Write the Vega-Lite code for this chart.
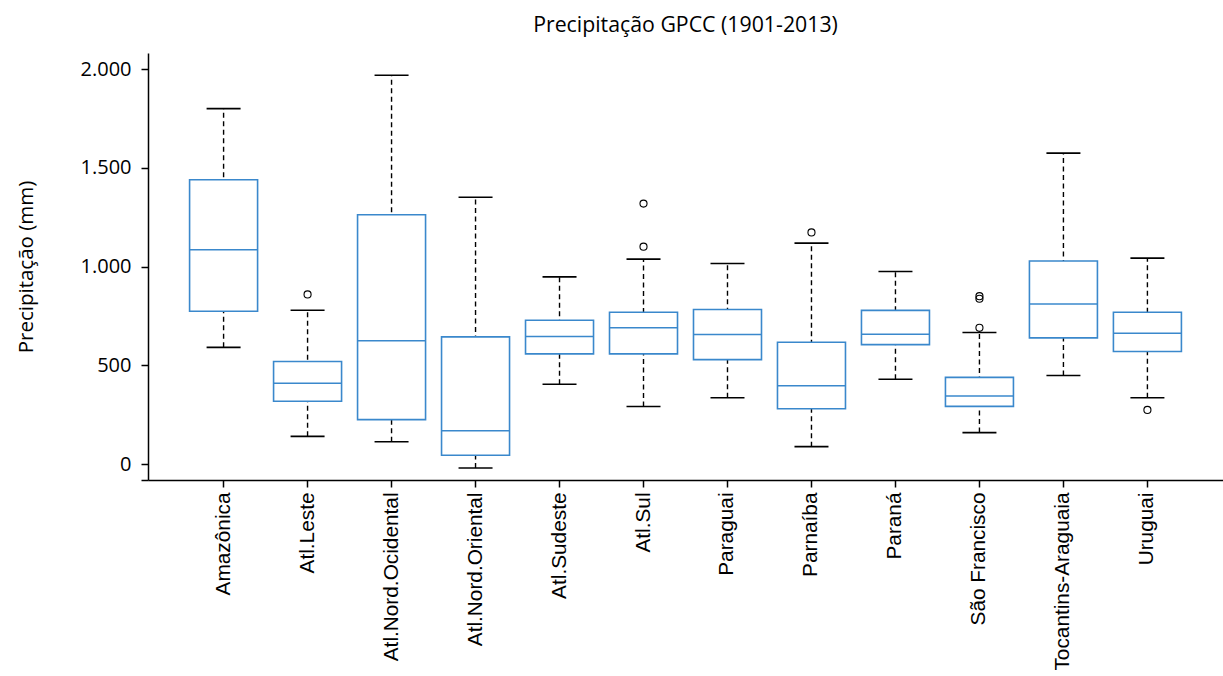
{
  "$schema": "https://vega.github.io/schema/vega-lite/v6.json",
  "width": 1075,
  "height": 427,
  "autosize": {"type": "none"},
  "padding": {"left": 148, "top": 53, "right": 0, "bottom": 196},
  "background": "white",
  "title": {"text": "Precipitação GPCC (1901-2013)", "font": "Open Sans", "fontSize": 21.3, "fontWeight": "normal", "color": "#000000", "anchor": "middle", "offset": 17},
  "config": {
    "view": {"stroke": null},
    "font": "Open Sans",
    "axis": {"labelColor": "#000000", "titleColor": "#000000", "domainColor": "#000000", "tickColor": "#000000", "grid": false, "titleFontWeight": "normal", "tickSize": 7, "domainWidth": 1.5, "tickWidth": 1.5}
  },
  "datasets": {
    "stats": [
      {"regiao": "Amazônica", "lower": 591, "q1": 774, "median": 1085, "q3": 1440, "upper": 1800},
      {"regiao": "Atl.Leste", "lower": 140, "q1": 318, "median": 409, "q3": 519, "upper": 779},
      {"regiao": "Atl.Nord.Ocidental", "lower": 113, "q1": 225, "median": 625, "q3": 1263, "upper": 1969},
      {"regiao": "Atl.Nord.Oriental", "lower": -20, "q1": 44, "median": 169, "q3": 644, "upper": 1351},
      {"regiao": "Atl.Sudeste", "lower": 404, "q1": 558, "median": 646, "q3": 728, "upper": 948},
      {"regiao": "Atl.Sul", "lower": 291, "q1": 558, "median": 690, "q3": 769, "upper": 1038},
      {"regiao": "Paraguai", "lower": 336, "q1": 529, "median": 656, "q3": 783, "upper": 1016},
      {"regiao": "Parnaíba", "lower": 88, "q1": 280, "median": 396, "q3": 617, "upper": 1119},
      {"regiao": "Paraná", "lower": 429, "q1": 605, "median": 657, "q3": 778, "upper": 975},
      {"regiao": "São Francisco", "lower": 159, "q1": 292, "median": 345, "q3": 439, "upper": 666},
      {"regiao": "Tocantins-Araguaia", "lower": 448, "q1": 639, "median": 811, "q3": 1028, "upper": 1575},
      {"regiao": "Uruguai", "lower": 336, "q1": 570, "median": 662, "q3": 769, "upper": 1043}
    ],
    "outliers": [
      {"regiao": "Atl.Leste", "valor": 859},
      {"regiao": "Atl.Sul", "valor": 1319},
      {"regiao": "Atl.Sul", "valor": 1101},
      {"regiao": "Parnaíba", "valor": 1173},
      {"regiao": "São Francisco", "valor": 850},
      {"regiao": "São Francisco", "valor": 837},
      {"regiao": "São Francisco", "valor": 690},
      {"regiao": "Uruguai", "valor": 274}
    ]
  },
  "encoding": {
    "x": {
      "field": "regiao", "type": "nominal",
      "scale": {"domain": ["Amazônica", "Atl.Leste", "Atl.Nord.Ocidental", "Atl.Nord.Oriental", "Atl.Sudeste", "Atl.Sul", "Paraguai", "Parnaíba", "Paraná", "São Francisco", "Tocantins-Araguaia", "Uruguai"], "paddingInner": 0, "paddingOuter": 0.4},
      "axis": {"title": null, "labelAngle": -90, "labelPadding": 5, "labelFont": "Liberation Sans", "labelFontSize": 20.8, "labelLimit": 400}
    }
  },
  "layer": [
    {
      "data": {"name": "stats"},
      "mark": {"type": "rule", "color": "#000000", "strokeWidth": 1.4, "strokeDash": [5, 3.5]},
      "encoding": {
        "y": {"field": "lower", "type": "quantitative", "scale": {"domain": [-81, 2082], "nice": false, "zero": false},
          "axis": {"title": "Precipitação (mm)", "values": [-81, 0, 500, 1000, 1500, 2000], "labelExpr": "datum.value < 0 ? '' : replace(format(datum.value, ','), ',', '.')", "labelPadding": 10, "labelFont": "Open Sans", "labelFontSize": 20, "titleFont": "Open Sans", "titleFontSize": 20.5, "titlePadding": 44}},
        "y2": {"field": "upper"}
      }
    },
    {
      "data": {"name": "stats"},
      "mark": {"type": "tick", "color": "#000000", "opacity": 1, "size": 34, "thickness": 1.6},
      "encoding": {"y": {"field": "upper", "type": "quantitative"}}
    },
    {
      "data": {"name": "stats"},
      "mark": {"type": "tick", "color": "#000000", "opacity": 1, "size": 34, "thickness": 1.6},
      "encoding": {"y": {"field": "lower", "type": "quantitative"}}
    },
    {
      "data": {"name": "stats"},
      "mark": {"type": "bar", "size": 68, "fill": "#ffffff", "stroke": "#3a88cc", "strokeWidth": 1.6, "opacity": 1},
      "encoding": {"y": {"field": "q1", "type": "quantitative"}, "y2": {"field": "q3"}}
    },
    {
      "data": {"name": "stats"},
      "mark": {"type": "tick", "color": "#3a88cc", "opacity": 1, "size": 68, "thickness": 1.5},
      "encoding": {"y": {"field": "median", "type": "quantitative"}}
    },
    {
      "data": {"name": "outliers"},
      "mark": {"type": "point", "shape": "circle", "filled": false, "color": "#000000", "opacity": 1, "size": 50, "strokeWidth": 1.1},
      "encoding": {"y": {"field": "valor", "type": "quantitative"}}
    }
  ]
}
